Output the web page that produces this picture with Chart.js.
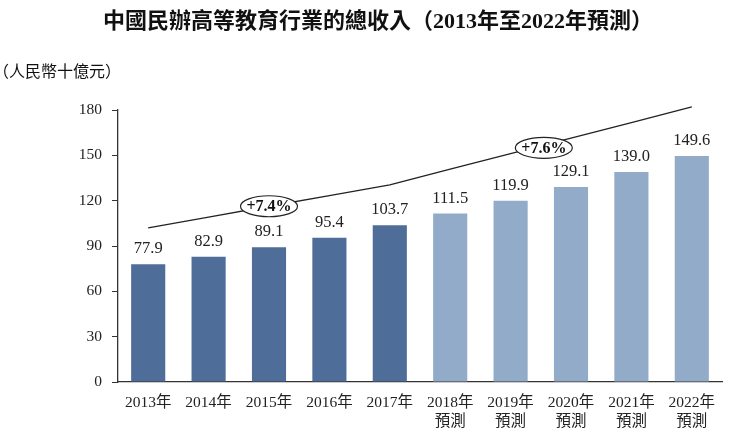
<!DOCTYPE html>
<html>
<head>
<meta charset="utf-8">
<script src="https://cdn.jsdelivr.net/npm/chart.js@4/dist/chart.umd.min.js"></script>
<style>
  html, body { margin: 0; padding: 0; background: #fff; }
  #wrap { width: 738px; height: 436px; }
</style>
</head>
<body>
<div id="wrap"><canvas id="myChart" width="738" height="436"></canvas></div>
<script>
// data
const years = [['2013年'], ['2014年'], ['2015年'], ['2016年'], ['2017年'],
  ['2018年', '預測'], ['2019年', '預測'], ['2020年', '預測'], ['2021年', '預測'], ['2022年', '預測']];
const revenue = [77.9, 82.9, 89.1, 95.4, 103.7, 111.5, 119.9, 129.1, 139.0, 149.6];
const trend = [102, 109.1, 116.3, 123.4, 130.5, 140.8, 151.1, 161.4, 171.7, 182];
const cagrLabels = [{ text: '+7.4%', at: 2, value: 116.3 }, { text: '+7.6%', at: 6.55, value: 155 }];
const yTicks = [0, 30, 60, 90, 120, 150, 180];

const serif = "'Liberation Serif', 'Noto Sans CJK TC', serif";
const darkBlue = '#4E6D99';
const lightBlue = '#92ABC9';

const extras = {
  id: 'extras',
  afterDatasetsDraw(chart) {
    const ctx = chart.ctx;
    const xs = chart.scales.x, ys = chart.scales.y;
    ctx.save();
    // value labels over the bars
    ctx.fillStyle = '#222';
    ctx.font = '16.5px ' + serif;
    ctx.textAlign = 'center';
    ctx.textBaseline = 'bottom';
    chart.getDatasetMeta(0).data.forEach((bar, i) => {
      ctx.fillText(revenue[i].toFixed(1), bar.x, bar.y - 7);
    });
    // CAGR ellipses
    cagrLabels.forEach(c => {
      const x0 = xs.getPixelForValue(Math.floor(c.at));
      const x1 = xs.getPixelForValue(Math.floor(c.at) + 1);
      const cx = x0 + (x1 - x0) * (c.at - Math.floor(c.at));
      const cy = ys.getPixelForValue(c.value);
      ctx.beginPath();
      ctx.ellipse(cx, cy, 28.5, 10.5, 0, 0, Math.PI * 2);
      ctx.fillStyle = '#fff';
      ctx.fill();
      ctx.lineWidth = 1.2;
      ctx.strokeStyle = '#222';
      ctx.stroke();
      ctx.fillStyle = '#111';
      ctx.font = 'bold 16px ' + serif;
      ctx.textBaseline = 'middle';
      ctx.fillText(c.text, cx, cy + 1);
    });
    // title and unit
    ctx.fillStyle = '#111';
    ctx.font = 'bold 22px ' + serif;
    ctx.textBaseline = 'middle';
    ctx.fillText('中國民辦高等教育行業的總收入（2013年至2022年預測）', 378, 22);
    ctx.font = '16px ' + serif;
    ctx.textAlign = 'left';
    ctx.fillText('（人民幣十億元）', -7, 73);
    ctx.restore();
  }
};

new Chart(document.getElementById('myChart').getContext('2d'), {
  data: {
    labels: years,
    datasets: [
      {
        type: 'bar',
        data: revenue,
        backgroundColor: revenue.map((v, i) => i < 5 ? darkBlue : lightBlue),
        categoryPercentage: 1,
        barPercentage: 0.565,
        order: 2
      },
      {
        type: 'line',
        data: trend,
        borderColor: '#222',
        borderWidth: 1.3,
        pointRadius: 0,
        tension: 0,
        clip: false,
        order: 1
      }
    ]
  },
  options: {
    responsive: false,
    animation: false,
    layout: { padding: { top: 110, right: 16, left: 0, bottom: 0 } },
    plugins: { legend: { display: false }, tooltip: { enabled: false } },
    scales: {
      x: {
        grid: { display: false },
        border: { color: '#333', width: 1.3 },
        ticks: { color: '#222', font: { family: serif, size: 15.5 }, padding: 4, maxRotation: 0 },
        afterFit(scale) { scale.height = 54; }
      },
      y: {
        min: 0,
        max: 180,
        afterBuildTicks(scale) { scale.ticks = yTicks.map(v => ({ value: v })); },
        grid: { drawOnChartArea: false, tickLength: 6, color: '#333' },
        border: { color: '#333', width: 1.3 },
        ticks: { color: '#222', font: { family: serif, size: 15.5 }, padding: 10 },
        afterFit(scale) { scale.width = 118; }
      }
    }
  },
  plugins: [extras]
});
</script>
</body>
</html>
